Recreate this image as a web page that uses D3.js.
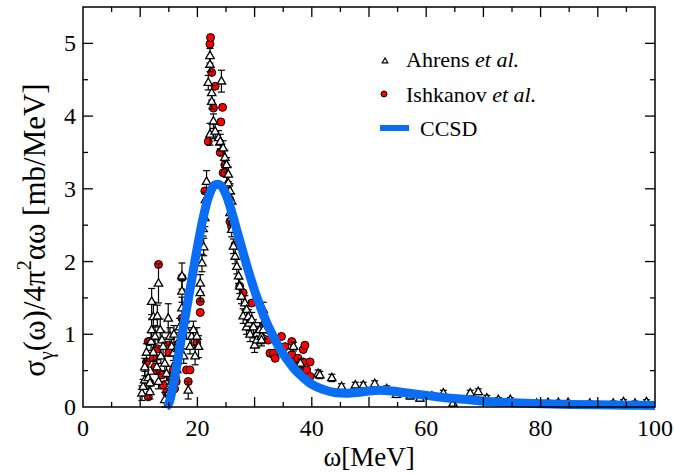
<!DOCTYPE html>
<html>
<head>
<meta charset="utf-8">
<script src="https://cdn.jsdelivr.net/npm/d3@7"></script>
<style>
  body { margin: 0; background: #fff; }
  text { font-family: "Liberation Serif", "Times New Roman", serif; fill: #000; }
</style>
</head>
<body>
<div id="chart"></div>
<script>
// photon absorption cross section, Ahrens / Ishkanov data vs CCSD

// Ahrens et al. (omega [MeV], sigma, error)
var ahrensOmega = [10.3,10.5,10.8,10.8,11.1,11.4,11.7,11.7,11.9,12.0,12.3,12.3,12.0,12.6,12.9,13.0,13.2,13.2,13.5,13.6,13.8,14.0,14.3,14.6,14.3,14.9,15.0,15.2,15.5,15.5,15.8,15.9,16.1,16.4,16.6,16.7,16.9,17.3,17.3,17.3,17.6,17.8,18.1,18.4,18.7,19.0,19.3,19.6,19.9,20.2,20.5,20.5,20.8,
  21.0,21.1,21.3,21.4,21.6,21.9,22.2,22.2,22.5,22.5,22.8,22.2,23.1,23.7,24.0,24.2,24.5,24.8,25.1,25.4,25.1,25.7,25.9,26.0,
  25.4,25.4,25.7,26.0,26.3,26.6,26.9,27.2,27.4,27.7,28.0,28.3,28.6,28.6,28.9,29.0,29.2,29.5,29.8,30.0,30.4,30.4,30.9,31.2,31.5,31.5,31.2,
  36.8,38.0,41.1,41.4,43.5,45.2,47.6,49.0,51.0,53.1,54.8,57.2,58.9,61.0,63.0,64.7,67.7,69.1,70.6,72.6,74.7,79.3,81.3,83.1,84.8,88.6,92.7,94.5,96.5,98.5];
var ahrensSigma = [0.19,0.28,0.37,0.55,0.75,0.40,0.21,0.33,0.90,1.45,1.24,0.75,1.06,0.97,0.55,1.25,1.70,0.35,1.06,0.70,0.92,0.83,0.60,0.46,0.10,1.22,0.20,0.97,0.83,0.35,0.74,1.00,0.60,0.51,0.80,0.90,1.10,1.80,1.59,1.36,0.70,1.20,1.06,0.23,0.83,0.97,1.06,0.70,0.97,0.83,1.57,1.70,1.98,
  2.45,2.20,2.60,2.85,3.10,4.46,4.83,4.71,4.32,4.20,3.93,3.75,3.79,3.70,3.65,4.48,3.56,3.43,3.33,3.20,3.06,2.97,2.60,2.83,
  3.08,2.90,2.67,2.44,2.21,2.07,1.93,1.80,1.66,1.52,1.25,1.43,1.34,1.10,1.24,1.15,1.00,1.20,1.10,0.85,1.01,0.92,1.06,0.97,1.34,1.06,0.92,
  0.83,0.60,0.46,0.44,0.40,0.28,0.30,0.30,0.32,0.25,0.17,0.15,0.12,0.15,0.19,0.05,0.19,0.21,0.12,0.10,0.10,0.05,0.06,0.06,0.06,0.05,0.05,0.07,0.05,0.07];
var ahrensErr = [0.10,0.10,0.12,0.12,0.12,0.15,0.10,0.12,0.12,0.18,0.20,0.12,0.15,0.15,0.10,0.15,0.27,0.10,0.15,0.10,0.12,0.12,0.10,0.10,0.10,0.20,0.08,0.12,0.12,0.10,0.10,0.12,0.10,0.10,0.10,0.12,0.12,0.18,0.15,0.15,0.10,0.12,0.12,0.12,0.10,0.12,0.12,0.12,0.12,0.15,0.12,0.12,0.12,
  0.10,0.12,0.12,0.10,0.15,0.10,0.10,0.10,0.10,0.10,0.10,0.15,0.10,0.10,0.10,0.15,0.10,0.10,0.10,0.10,0.10,0.10,0.10,0.10,
  0.10,0.10,0.10,0.10,0.10,0.10,0.10,0.10,0.10,0.10,0.10,0.10,0.10,0.10,0.10,0.10,0.10,0.10,0.10,0.10,0.10,0.10,0.10,0.10,0.10,0.08,0.08,
  0.06,0.06,0.05,0.05,0.05,0.04,0.04,0.04,0.04,0.04,0.04,0.04,0.04,0.04,0.04,0.04,0.04,0.04,0.04,0.03,0.03,0.03,0.03,0.03,0.03,0.03,0.03,0.03,0.03,0.03];

// Ishkanov et al.
var ishkOmega = [11.1,11.4,11.4,11.7,11.7,12.3,12.6,12.9,13.0,13.2,13.8,14.0,14.6,14.9,15.0,15.2,15.5,15.8,16.0,16.3,16.5,17.3,17.3,18.1,18.4,18.7,19.9,20.5,20.5,
  21.3,21.9,22.2,22.3,22.5,22.8,23.1,24.0,24.1,24.4,24.5,24.8,24.8,25.7,25.7,26.0,26.6,27.4,28.0,29.5,
  31.8,32.4,32.4,32.7,33.3,33.3,33.6,34.7,35.3,36.5,36.5,36.8,37.1,37.6,38.0,38.5,38.5,38.8,39.1,39.7,39.7];
var ishkSigma = [0.62,0.90,0.14,0.90,0.33,0.67,0.55,0.50,0.80,1.96,0.44,0.30,0.20,0.85,0.75,0.42,0.42,0.51,0.25,0.35,0.60,1.22,1.78,0.51,0.35,0.51,0.88,1.45,1.30,
  2.97,3.65,4.99,5.08,4.60,4.11,4.41,3.50,3.92,4.12,3.22,3.33,3.22,2.55,2.85,2.48,2.23,1.66,1.57,1.43,
  1.15,1.06,0.92,0.74,0.72,0.74,0.67,0.97,0.83,0.90,0.72,0.62,0.56,0.67,0.56,0.79,0.62,0.85,0.51,0.62,0.42];

// CCSD calculation
var ccsdOmega = [14.5,15,16,17,18,19,20,21,22,23,24,25,26,27,28,29,30,31,32,33,34,35,36,37,38,39,40,42,44,46,48,50,52,54,56,58,60,63,66,70,75,80,85,90,95,100];
var ccsdSigma = [0.0,0.05,0.4,0.85,1.3,1.75,2.2,2.6,2.9,3.05,3.05,2.92,2.68,2.4,2.12,1.85,1.6,1.38,1.18,1.01,0.86,0.73,0.62,0.52,0.44,0.37,0.31,0.24,0.2,0.19,0.2,0.22,0.23,0.22,0.2,0.18,0.16,0.13,0.11,0.08,0.06,0.045,0.035,0.03,0.025,0.02];

var xTickLabels = [0, 20, 40, 60, 80, 100];
var yTickLabels = [0, 1, 2, 3, 4, 5];

var W = 674, H = 473;
var margin = {top: 7, right: 19, bottom: 66, left: 83};
var blue = "#0a6ef5";

var svg = d3.select("#chart").append("svg")
    .attr("width", W)
    .attr("height", H)
    .attr("font-family", "'Liberation Serif', 'Times New Roman', serif");

var x = d3.scaleLinear().domain([0, 100]).range([margin.left, W - margin.right]);
var y = d3.scaleLinear().domain([0, 5.5]).range([H - margin.bottom, margin.top]);

var plot = svg.append("g");

var ahrens = ahrensOmega.map((w, i) => ({w: w, s: ahrensSigma[i], e: ahrensErr[i]}));
var ishk = ishkOmega.map((w, i) => ({w: w, s: ishkSigma[i]}));
var ccsd = ccsdOmega.map((w, i) => [w, ccsdSigma[i]]);

var triPath = "M0,-4.6L4.2,2.8L-4.2,2.8Z";

// Ishkanov circles
plot.selectAll("circle.ishk")
    .data(ishk)
    .enter()
    .append("circle")
    .attr("class", "ishk")
    .attr("cx", d => x(d.w))
    .attr("cy", d => y(d.s))
    .attr("r", 4)
    .style("fill", "#ff0000")
    .style("stroke", "#000")
    .style("stroke-width", 1);

// Ahrens error bars
var eb = plot.selectAll("g.eb")
    .data(ahrens)
    .enter()
    .append("g")
    .attr("class", "eb")
    .style("stroke", "#000")
    .style("stroke-width", 1.2);

eb.append("line")
    .attr("x1", d => x(d.w)).attr("x2", d => x(d.w))
    .attr("y1", d => y(Math.max(0, d.s - d.e))).attr("y2", d => y(d.s + d.e));
eb.append("line")
    .attr("x1", d => x(d.w) - 3.5).attr("x2", d => x(d.w) + 3.5)
    .attr("y1", d => y(d.s + d.e)).attr("y2", d => y(d.s + d.e));
eb.append("line")
    .attr("x1", d => x(d.w) - 3.5).attr("x2", d => x(d.w) + 3.5)
    .attr("y1", d => y(Math.max(0, d.s - d.e))).attr("y2", d => y(Math.max(0, d.s - d.e)));

// Ahrens triangles
plot.selectAll("path.ahrens")
    .data(ahrens)
    .enter()
    .append("path")
    .attr("class", "ahrens")
    .attr("d", triPath)
    .attr("transform", d => "translate(" + x(d.w) + "," + y(d.s) + ")")
    .style("fill", "#fff")
    .style("stroke", "#000")
    .style("stroke-width", 1.3);

// CCSD curve
var line = d3.line()
    .x(d => x(d[0]))
    .y(d => y(d[1]))
    .curve(d3.curveCatmullRom);

plot.append("path")
    .datum(ccsd)
    .attr("d", line)
    .style("fill", "none")
    .style("stroke", blue)
    .style("stroke-width", 9)
    .style("stroke-linejoin", "round");

// frame
svg.append("rect")
    .attr("x", x(0)).attr("y", y(5.5))
    .attr("width", x(100) - x(0)).attr("height", y(0) - y(5.5))
    .style("fill", "none")
    .style("stroke", "#000")
    .style("stroke-width", 1.5);

// ticks on all four sides, pointing in
var ax = svg.append("g").style("stroke", "#000").style("stroke-width", 1.3);
d3.range(5, 100, 5).forEach(v => {
  var len = v % 10 == 0 ? 10 : 5;
  ax.append("line").attr("x1", x(v)).attr("x2", x(v)).attr("y1", y(0)).attr("y2", y(0) - len);
  ax.append("line").attr("x1", x(v)).attr("x2", x(v)).attr("y1", y(5.5)).attr("y2", y(5.5) + len);
});
d3.range(0.5, 5.5, 0.5).forEach(v => {
  var len = Math.abs(v - Math.round(v)) < 1e-6 ? 10 : 5;
  ax.append("line").attr("x1", x(0)).attr("x2", x(0) + len).attr("y1", y(v)).attr("y2", y(v));
  ax.append("line").attr("x1", x(100)).attr("x2", x(100) - len).attr("y1", y(v)).attr("y2", y(v));
});

// tick labels
svg.selectAll("text.xt")
    .data(xTickLabels)
    .enter()
    .append("text")
    .attr("class", "xt")
    .attr("x", d => x(d))
    .attr("y", y(0) + 29)
    .style("text-anchor", "middle")
    .style("font-size", "24px")
    .text(d => d);

svg.selectAll("text.yt")
    .data(yTickLabels)
    .enter()
    .append("text")
    .attr("class", "yt")
    .attr("x", x(0) - 7)
    .attr("y", d => y(d) + 8)
    .style("text-anchor", "end")
    .style("font-size", "24px")
    .text(d => d);

// axis titles
svg.append("text")
    .attr("x", (x(0) + x(100)) / 2)
    .attr("y", 466)
    .style("text-anchor", "middle")
    .style("font-size", "27px")
    .text("ω[MeV]");

var yt = svg.append("text")
    .attr("transform", "translate(45,230) rotate(-90)")
    .style("text-anchor", "middle")
    .style("font-size", "31px");
yt.append("tspan").text("σ");
yt.append("tspan").attr("dy", 8).style("font-size", "20px").text("γ");
yt.append("tspan").attr("dy", -8).text("(ω)/4π");
yt.append("tspan").attr("dy", -14).style("font-size", "20px").text("2");
yt.append("tspan").attr("dy", 14).text("αω [mb/MeV]");

// legend
var lg = svg.append("g");
lg.append("path")
    .attr("d", "M0,-3L2.8,1.8L-2.8,1.8Z")
    .attr("transform", "translate(385,61)")
    .style("fill", "#fff").style("stroke", "#000").style("stroke-width", 1.2);
lg.append("circle")
    .attr("cx", 384).attr("cy", 94).attr("r", 3)
    .style("fill", "#ff0000").style("stroke", "#000").style("stroke-width", 1);
lg.append("line")
    .attr("x1", 380).attr("x2", 409).attr("y1", 128).attr("y2", 128)
    .style("stroke", blue).style("stroke-width", 6);

var t1 = lg.append("text").attr("x", 406).attr("y", 67).style("font-size", "22px");
t1.append("tspan").text("Ahrens ");
t1.append("tspan").style("font-style", "italic").text("et al.");
var t2 = lg.append("text").attr("x", 406).attr("y", 102).style("font-size", "22px");
t2.append("tspan").text("Ishkanov ");
t2.append("tspan").style("font-style", "italic").text("et al.");
lg.append("text").attr("x", 420).attr("y", 136).style("font-size", "22px").text("CCSD");
</script>
</body>
</html>
